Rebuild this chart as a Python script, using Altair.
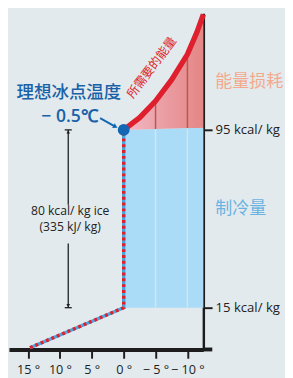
import altair as alt
import pandas as pd

# ---- data ----
curve_deg = [0, -2.5, -5, -7.5, -10, -11.5, -12.5]
curve_kcal = [95, 100.5, 108, 117.5, 129, 139, 147]
base_kcal = [95, 95.2, 95.4, 95.6, 95.8, 95.9, 96]
cool_low = 15
path_deg = [14.7, 0, 0]
path_kcal = [-3, 15, 95]
grid_deg = [-5, -10]
x_ticks = [15, 10, 5, 0, -5, -10]
y_ticks = [15, 95]
latent_top, latent_bottom = 95, 15

CJK = "Noto Sans CJK SC"
LAT = "Open Sans"
DARK = "#1d1d1d"

xs = alt.Scale(domain=[18, -12.5], nice=False, zero=False)
ys = alt.Scale(domain=[-3.8, 147.5], nice=False, zero=False)
xaxis = alt.Axis(values=x_ticks, title=None, grid=False, domainWidth=4, domainColor=DARK,
                 tickSize=9, tickWidth=2, tickColor=DARK, labelFontSize=13, labelFont=LAT,
                 labelFontWeight=500, labelColor="#222", labelPadding=6,
                 labelExpr="datum.value > 0 ? datum.value + ' °' : datum.value == 0 ? '0 °' : '− ' + abs(datum.value) + ' °'")
yaxis = alt.Axis(values=y_ticks, orient="right", title=None, grid=False, domainWidth=2.5,
                 domainColor=DARK, tickSize=9, tickWidth=2, tickColor=DARK, labelFontSize=13.5,
                 labelFont=LAT, labelFontWeight=500, labelColor="#222", labelPadding=3,
                 labelExpr="datum.value + ' kcal/ kg'")


def X(f):
    return alt.X(f, type="quantitative", scale=xs, axis=xaxis)


def Y(f):
    return alt.Y(f, type="quantitative", scale=ys, axis=yaxis)


curve = pd.DataFrame({"d": curve_deg, "k": curve_kcal, "b": base_kcal})
path = pd.DataFrame({"d": path_deg, "k": path_kcal, "o": [0, 1, 2]})

blue = alt.Chart(curve).mark_area(color="#abdcf7", opacity=1).encode(
    x=X("d"), y=Y("b"), y2=alt.datum(cool_low))

pink = alt.Chart(curve).mark_area(
    fill=alt.Gradient(gradient="linear", x1=0, x2=1, y1=0, y2=0,
                      stops=[alt.GradientStop(color="#f4bac7", offset=0),
                             alt.GradientStop(color="#eb9ea4", offset=0.5),
                             alt.GradientStop(color="#e48686", offset=1)]),
    opacity=1).encode(x=X("d"), y=Y("k"), y2="b:Q")

gridlow = pd.DataFrame({"d": grid_deg, "lo": [cool_low] * 2, "hi": [95.4, 95.8]})
gl = alt.Chart(gridlow).mark_rule(color="#d3e6ef", strokeWidth=1.5).encode(
    x=X("d"), y=Y("lo"), y2="hi:Q")
gridhigh = pd.DataFrame({"d": grid_deg, "lo": [95.4, 95.8], "hi": [107, 128]})
gh = alt.Chart(gridhigh).mark_rule(color="#b9574d", strokeWidth=1.5).encode(
    x=X("d"), y=Y("lo"), y2="hi:Q")

redline = alt.Chart(curve).mark_line(color="#df1f2d", strokeWidth=5.5).encode(
    x=X("d"), y=Y("k"))

pblue = alt.Chart(path).mark_line(color="#4aa6de", strokeWidth=3.5, strokeCap="butt").encode(
    x=X("d"), y=Y("k"), order="o:Q")
pred = alt.Chart(path).mark_line(color="#e01f2c", strokeWidth=3.5, strokeDash=[3, 3],
                                 strokeCap="butt").encode(x=X("d"), y=Y("k"), order="o:Q")

dot = alt.Chart(pd.DataFrame({"d": [0], "k": [95]})).mark_point(
    filled=True, size=150, color="#1566b2", opacity=1).encode(x=X("d"), y=Y("k"))

# pointer arrow
arr = pd.DataFrame({"d": [3.7], "k": [100.3], "d2": [1.4], "k2": [96.6]})
arrline = alt.Chart(arr).mark_rule(color="#1566b2", strokeWidth=2).encode(
    x=X("d"), y=Y("k"), x2="d2:Q", y2="k2:Q")
arrhead = alt.Chart(arr).mark_point(shape="triangle", filled=True, size=30, angle=118,
                                    color="#1566b2", opacity=1).encode(x=X("d2"), y=Y("k2"))

# dimension line
dim_d = 8.7
dim = pd.DataFrame({"d": [dim_d, dim_d], "a": [latent_top, 43.9], "b": [61.3, latent_bottom]})
dimline = alt.Chart(dim).mark_rule(color=DARK, strokeWidth=1.3).encode(
    x=X("d"), y=Y("a"), y2="b:Q")
caps = pd.DataFrame({"d": [dim_d + 0.55] * 2, "d2": [dim_d - 0.55] * 2,
                     "k": [latent_top, latent_bottom]})
capline = alt.Chart(caps).mark_rule(color=DARK, strokeWidth=1.3).encode(
    x=X("d"), x2="d2:Q", y=Y("k"))
heads = pd.DataFrame({"d": [dim_d, dim_d], "k": [latent_top - 1.2, latent_bottom + 1.2],
                      "ang": [0, 180]})
headmk = alt.Chart(heads).mark_point(shape="triangle", filled=True, size=14, color=DARK,
                                     opacity=1).encode(x=X("d"), y=Y("k"), angle=alt.Angle("ang:Q", scale=None))


# texts
def txt(d, k, s, **kw):
    return alt.Chart(pd.DataFrame({"d": [d], "k": [k], "t": [s]})).mark_text(**kw).encode(
        x=X("d"), y=Y("k"), text="t:N")


t1 = txt(8.6, 111.6, "理想冰点温度", font=CJK, fontSize=18, color="#1a62a8", fontWeight=500)
t2 = txt(8.5, 100.7, "− 0.5℃", font=LAT, fontSize=18, color="#1a62a8", fontWeight=600)
t3 = txt(8.4, 58.3, "80 kcal/ kg ice", font=LAT, fontSize=12.5, color="#222", fontWeight=500)
t4 = txt(8.4, 51.3, "(335 kJ/ kg)", font=LAT, fontSize=12.5, color="#222", fontWeight=500)
t5 = txt(-14.35, 116.4, "能量损耗", font=CJK, fontSize=17.5, color="#f4a98c", align="left")
t6 = txt(-14.35, 59.2, "制冷量", font=CJK, fontSize=17.5, color="#6ab3e1", align="left")
t7 = txt(-4.4, 123.0, "所需要的能量", font=CJK, fontSize=12.5, color="#e01f2c", angle=307,
         baseline="middle")

ext = alt.Chart(pd.DataFrame({"d": [-12.5], "d2": [-13.9], "k": [-3.8]})).mark_rule(
    color=DARK, strokeWidth=4).encode(x=X("d"), x2="d2:Q", y=Y("k"))

chart = alt.layer(
    blue, pink, gl, gh, redline, pblue, pred, dot, arrline, arrhead,
    dimline, capline, headmk, t1, t2, t3, t4, t5, t6, t7, ext
).properties(
    width=200, height=346,
    autosize=alt.AutoSizeParams(type="none"),
    padding={"left": 1, "top": 0, "right": 84, "bottom": 24},
    background="#e2eaed",
).configure_view(stroke=None)

chart.save("out.html", embed_options={"renderer": "svg", "actions": False})
